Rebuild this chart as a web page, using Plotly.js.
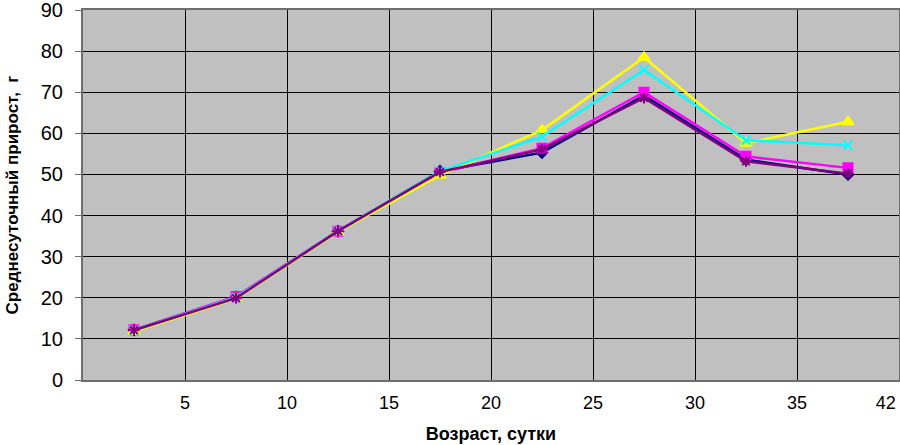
<!DOCTYPE html>
<html>
<head>
<meta charset="utf-8">
<script src="https://cdn.plot.ly/plotly-3.0.1.min.js"></script>
<style>html,body{margin:0;padding:0;background:#fff;}#chart{width:900px;height:445px;}</style>
</head>
<body>
<div id="chart"></div>
<script>
// Age intervals (categories) and boundary tick labels
var categories = ['0–5', '5–10', '10–15', '15–20', '20–25', '25–30', '30–35', '35–42'];
var tickLabels = ['5', '10', '15', '20', '25', '30', '35', '42'];

// Series values, average daily gain, g
var seriesNavy    = [12.2, 20.2, 36.2, 50.8, 55.3, 69.2, 53.6, 50.0];
var seriesMagenta = [12.2, 20.3, 36.2, 50.4, 56.4, 70.0, 54.4, 51.6];
var seriesYellow  = [11.8, 19.8, 36.0, 49.8, 60.8, 78.5, 57.6, 62.8];
var seriesCyan    = [12.1, 20.1, 36.2, 50.8, 59.2, 75.4, 58.3, 57.1];
var seriesPurple  = [12.1, 19.9, 36.2, 50.6, 56.1, 68.6, 53.2, 50.2];

var seriesNames = ['Серия 1', 'Серия 2', 'Серия 3', 'Серия 4', 'Серия 5'];
var seriesData = [seriesNavy, seriesMagenta, seriesYellow, seriesCyan, seriesPurple];
var colors = ['#000080', '#FF00FF', '#FFFF00', '#00FFFF', '#800080'];
var symbols = ['diamond', 'square', 'triangle-up', 'x-thin-open', 'asterisk-open'];
var msizes = [8, 9, 10, 9, 9];

var traces = seriesData.map(function (vals, i) {
  return {
    type: 'scatter', mode: 'lines+markers',
    x: categories, y: vals, name: seriesNames[i],
    line: {color: colors[i], width: 2.5},
    marker: {symbol: symbols[i], size: msizes[i], color: colors[i], line: {color: colors[i], width: 2}},
    cliponaxis: false
  };
});

// helper trace to carry the boundary-label axis
traces.push({
  type: 'scatter', mode: 'markers', xaxis: 'x2', yaxis: 'y',
  x: [0, categories.length], y: [0, 0], marker: {opacity: 0}, hoverinfo: 'skip', showlegend: false
});

// label positions at category boundaries; the last one is nudged inward so it stays in the picture
var labelPos = tickLabels.map(function (_, i) {
  return i === tickLabels.length - 1 ? i + 1 - 0.13 : i + 1;
});

var layout = {
  width: 900, height: 445,
  margin: {l: 83, r: 1, t: 10, b: 65},
  paper_bgcolor: '#ffffff',
  plot_bgcolor: '#C0C0C0',
  showlegend: false,
  font: {family: 'Liberation Sans, Arial, sans-serif', color: '#000'},
  xaxis: {
    type: 'category', categoryorder: 'array', categoryarray: categories,
    range: [-0.5, categories.length - 0.5],
    tickson: 'boundaries', showgrid: true, gridcolor: '#000', gridwidth: 1,
    showticklabels: false, ticks: '',
    showline: true, linecolor: '#6e6e6e', linewidth: 2, mirror: true,
    zeroline: false,
    title: {text: 'Возраст, сутки', font: {size: 18, family: 'Liberation Sans, Arial, sans-serif', weight: 'bold'}, standoff: 46}
  },
  xaxis2: {
    overlaying: 'x', side: 'bottom', range: [0, categories.length],
    tickmode: 'array',
    tickvals: labelPos,
    ticktext: tickLabels,
    showgrid: false, zeroline: false, showline: false, ticks: '',
    tickfont: {size: 18}, ticklabelstandoff: 10, ticklabeloverflow: 'allow'
  },
  yaxis: {
    range: [0, 90], dtick: 10, tick0: 0,
    showgrid: true, gridcolor: '#000', gridwidth: 1,
    ticks: 'outside', ticklen: 6, tickcolor: '#6e6e6e', tickwidth: 1,
    tickfont: {size: 20}, ticklabelstandoff: 8, ticklabeloverflow: 'allow',
    showline: true, linecolor: '#6e6e6e', linewidth: 2, mirror: true,
    zeroline: false,
    title: {text: 'Среднесуточный прирост,  г', font: {size: 17, weight: 'bold'}, standoff: 18}
  }
};

Plotly.newPlot('chart', traces, layout, {displayModeBar: false, staticPlot: true});
</script>
</body>
</html>
